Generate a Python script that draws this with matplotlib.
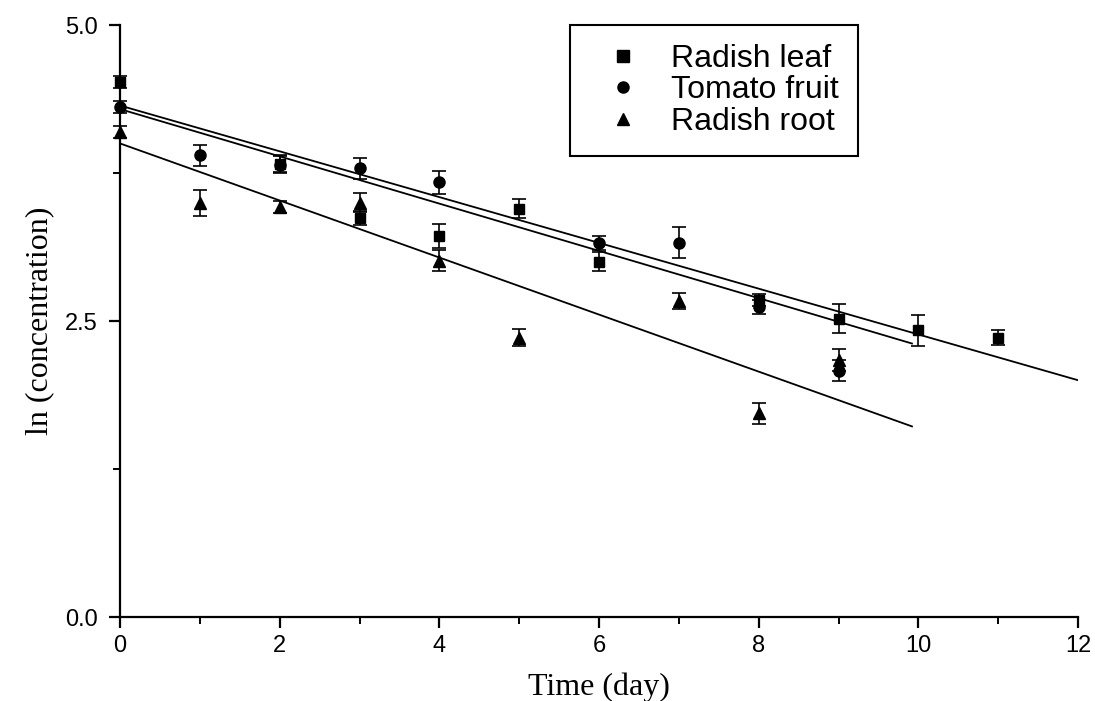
import matplotlib.pyplot as plt
from matplotlib.lines import Line2D
from matplotlib.ticker import MultipleLocator, FixedLocator

# values
leaf_x = [0, 2, 3, 4, 5, 6, 8, 9, 10, 11]
leaf_y = [4.52, 3.83, 3.37, 3.22, 3.45, 3.00, 2.68, 2.52, 2.42, 2.36]
leaf_err = [0.05, 0.07, 0.06, 0.10, 0.08, 0.08, 0.05, 0.12, 0.13, 0.06]

tomato_x = [0, 1, 2, 3, 4, 6, 7, 8, 9]
tomato_y = [4.31, 3.90, 3.82, 3.79, 3.67, 3.16, 3.16, 2.62, 2.08]
tomato_err = [0.05, 0.09, 0.07, 0.09, 0.10, 0.06, 0.13, 0.06, 0.09]

root_x = [0, 1, 2, 3, 4, 5, 7, 8, 9]
root_y = [4.10, 3.50, 3.46, 3.50, 3.01, 2.36, 2.67, 1.72, 2.17]
root_err = [0.05, 0.11, 0.05, 0.08, 0.09, 0.07, 0.07, 0.09, 0.09]

# fitted lines (end points)
leaf_fit_x = [0, 12]
leaf_fit_y = [4.32, 2.00]
tomato_fit_x = [0, 9.92]
tomato_fit_y = [4.29, 2.31]
root_fit_x = [0, 9.92]
root_fit_y = [4.00, 1.61]

labels = ['Radish leaf', 'Tomato fruit', 'Radish root']
markers = ['s', 'o', '^']

plt.rcParams['font.family'] = 'Liberation Sans'

fig = plt.figure(figsize=(10.95, 7.01), dpi=100)
ax = fig.add_axes([0.1096, 0.1198, 0.8749, 0.8445])

ebkw = dict(ls='none', color='black', ecolor='black', elinewidth=1.2,
            capsize=5, capthick=1.2, clip_on=False)
ax.errorbar(leaf_x, leaf_y, yerr=leaf_err, marker='s', ms=7, **ebkw)
ax.errorbar(tomato_x, tomato_y, yerr=tomato_err, marker='o', ms=8, **ebkw)
ax.errorbar(root_x, root_y, yerr=root_err, marker='^', ms=9, **ebkw)

ax.plot(leaf_fit_x, leaf_fit_y, color='black', lw=1.3)
ax.plot(tomato_fit_x, tomato_fit_y, color='black', lw=1.3)
ax.plot(root_fit_x, root_fit_y, color='black', lw=1.3)

ax.set_xlim(0, 12)
ax.set_ylim(0, 5)
ax.spines['top'].set_visible(False)
ax.spines['right'].set_visible(False)
ax.spines['left'].set_linewidth(1.6)
ax.spines['bottom'].set_linewidth(1.6)

ax.xaxis.set_major_locator(MultipleLocator(2))
ax.xaxis.set_minor_locator(MultipleLocator(1))
ax.yaxis.set_major_locator(FixedLocator([0, 2.5, 5.0]))
ax.yaxis.set_minor_locator(FixedLocator([1.25, 3.75]))
ax.set_yticklabels(['0.0', '2.5', '5.0'])
ax.tick_params(which='major', length=8, width=1.6, labelsize=17)
ax.tick_params(axis='y', which='major', pad=8)
ax.tick_params(axis='x', which='major', pad=5)
ax.tick_params(which='minor', length=5, width=1.4)

ax.set_xlabel('Time (day)', family='Liberation Serif', fontsize=23, labelpad=11)
ax.set_ylabel('ln (concentration)', family='Liberation Serif', fontsize=23, labelpad=8)

handles = [Line2D([], [], ls='none', marker=m, color='black', ms=8) for m in markers]
leg = ax.legend(handles, labels, loc='upper left', bbox_to_anchor=(0.47, 1.0), fontsize=23,
                frameon=True, fancybox=False, edgecolor='black', framealpha=1,
                handlelength=2.1, handletextpad=0.45, borderpad=0.6,
                labelspacing=0.04, borderaxespad=0)
leg.get_frame().set_linewidth(1.5)

fig.savefig('out.png', dpi=100)
